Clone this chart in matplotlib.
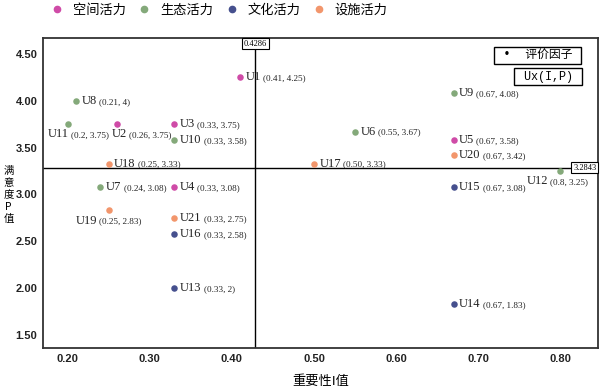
import matplotlib
matplotlib.use('Agg')
import matplotlib.pyplot as plt
from matplotlib.offsetbox import TextArea, HPacker, AnnotationBbox
from matplotlib.lines import Line2D
import matplotlib.transforms as mtransforms

plt.rcParams['font.family'] = ['Noto Sans CJK SC', 'DejaVu Sans']

# data
names = ['U1', 'U2', 'U3', 'U4', 'U5', 'U6', 'U7', 'U8', 'U9', 'U10', 'U11',
         'U12', 'U13', 'U14', 'U15', 'U16', 'U17', 'U18', 'U19', 'U20', 'U21']
imp = [0.41, 0.26, 0.33, 0.33, 0.67, 0.55, 0.24, 0.21, 0.67, 0.33, 0.20,
       0.80, 0.33, 0.67, 0.67, 0.33, 0.50, 0.25, 0.25, 0.67, 0.33]
sat = [4.25, 3.75, 3.75, 3.08, 3.58, 3.67, 3.08, 4.00, 4.08, 3.58, 3.75,
       3.25, 2.00, 1.83, 3.08, 2.58, 3.33, 3.33, 2.83, 3.42, 2.75]
coord_txt = ['(0.41, 4.25)', '(0.26, 3.75)', '(0.33, 3.75)', '(0.33, 3.08)',
             '(0.67, 3.58)', '(0.55, 3.67)', '(0.24, 3.08)', '(0.21, 4)',
             '(0.67, 4.08)', '(0.33, 3.58)', '(0.2, 3.75)', '(0.8, 3.25)',
             '(0.33, 2)', '(0.67, 1.83)', '(0.67, 3.08)', '(0.33, 2.58)',
             '(0.50, 3.33)', '(0.25, 3.33)', '(0.25, 2.83)', '(0.67, 3.42)',
             '(0.33, 2.75)']
cat = ['空间活力', '空间活力', '空间活力', '空间活力', '空间活力', '生态活力',
       '生态活力', '生态活力', '生态活力', '生态活力', '生态活力', '生态活力',
       '文化活力', '文化活力', '文化活力', '文化活力', '设施活力', '设施活力',
       '设施活力', '设施活力', '设施活力']
categories = ['空间活力', '生态活力', '文化活力', '设施活力']
mean_i = 0.4286
mean_p = 3.2843
xticks = [0.2, 0.3, 0.4, 0.5, 0.6, 0.7, 0.8]
yticks = [1.5, 2.0, 2.5, 3.0, 3.5, 4.0, 4.5]
ylabel = '满意度P值'

colors = {'空间活力': '#cf4ba7', '生态活力': '#84a97a',
          '文化活力': '#46508e', '设施活力': '#f2966c'}
# labels drawn under the point instead of to the right (offset in points)
below = {'U11': (8, -3), 'U2': (18, -3), 'U19': (0, -3), 'U12': (-2, -3)}

fig = plt.figure(figsize=(6, 3.88), dpi=100)
ax = fig.add_axes([0.0717, 0.103, 0.925, 0.799])

for c in categories:
    xs = [x for x, k in zip(imp, cat) if k == c]
    ys = [y for y, k in zip(sat, cat) if k == c]
    ax.scatter(xs, ys, s=22, color=colors[c], zorder=3, linewidths=0)

ax.axvline(mean_i, color='black', lw=1, zorder=2)
ax.axhline(mean_p, color='black', lw=1, zorder=2)

for n, x, y, t in zip(names, imp, sat, coord_txt):
    name = TextArea(n, textprops=dict(family='Liberation Serif', size=9, color='#222222'))
    crd = TextArea(t, textprops=dict(family='Liberation Serif', size=6.6, color='#222222'))
    pack = HPacker(children=[name, crd], pad=0, sep=1.5, align='baseline')
    if n in below:
        dx, dy = below[n]
        ab = AnnotationBbox(pack, (x, y), xybox=(dx, dy), xycoords='data',
                            boxcoords='offset points', box_alignment=(0.5, 1.0),
                            frameon=False, pad=0)
    else:
        ab = AnnotationBbox(pack, (x, y), xybox=(4, 0), xycoords='data',
                            boxcoords='offset points', box_alignment=(0.0, 0.5),
                            frameon=False, pad=0)
    ax.add_artist(ab)

ax.set_xlim(0.17, 0.846)
ax.set_ylim(1.36, 4.67)
ax.set_xticks(xticks)
ax.set_xticklabels(['%.2f' % v for v in xticks])
ax.set_yticks(yticks)
ax.set_yticklabels(['%.2f' % v for v in yticks])
ax.tick_params(length=0, labelsize=8, pad=4, colors='#222222')
for lab in ax.get_xticklabels() + ax.get_yticklabels():
    lab.set_family('Liberation Sans')
    lab.set_fontweight('bold')
for s in ax.spines.values():
    s.set_linewidth(1.3)
    s.set_color('#333333')

# mean value boxes
trans_x = mtransforms.blended_transform_factory(ax.transData, ax.transAxes)
ax.text(mean_i, 0.995, '0.4286', transform=trans_x, ha='center', va='top',
        fontsize=6, family='Liberation Serif', zorder=5,
        bbox=dict(boxstyle='square,pad=0.2', fc='white', ec='black', lw=0.8))
trans_y = mtransforms.blended_transform_factory(ax.transAxes, ax.transData)
ax.text(0.997, mean_p, '3.2843', transform=trans_y, ha='right', va='center',
        fontsize=6, family='Liberation Serif', zorder=5,
        bbox=dict(boxstyle='square,pad=0.2', fc='white', ec='black', lw=0.8))

# key boxes top right
ax.text(0.967, 0.965, '  •    评价因子  ', transform=ax.transAxes, ha='right', va='top',
        fontsize=8.5, zorder=5, family=['DejaVu Sans', 'Noto Sans CJK SC'],
        bbox=dict(boxstyle='square,pad=0.15', fc='white', ec='black', lw=1))
ax.text(0.967, 0.895, ' Ux(I,P) ', transform=ax.transAxes, ha='right', va='top',
        fontsize=8.5, family='Liberation Mono', zorder=5,
        bbox=dict(boxstyle='square,pad=0.2', fc='white', ec='black', lw=1))

ax.set_xlabel('重要性I值', fontsize=9.5, labelpad=8)
# vertical stacked y label, one character per line
for i, ch in enumerate(ylabel):
    fig.text(0.014, 0.559 - i * 0.031, ch, ha='center', va='center', fontsize=7.5)

handles = [Line2D([], [], marker='o', ls='', color=colors[c], markersize=4.5)
           for c in categories]
fig.legend(handles, categories, loc='upper left', bbox_to_anchor=(0.062, 1.02),
           ncol=4, frameon=False, fontsize=9.5, handletextpad=0.6,
           columnspacing=0.8, handlelength=1.2)

fig.savefig('out.png', dpi=100)
